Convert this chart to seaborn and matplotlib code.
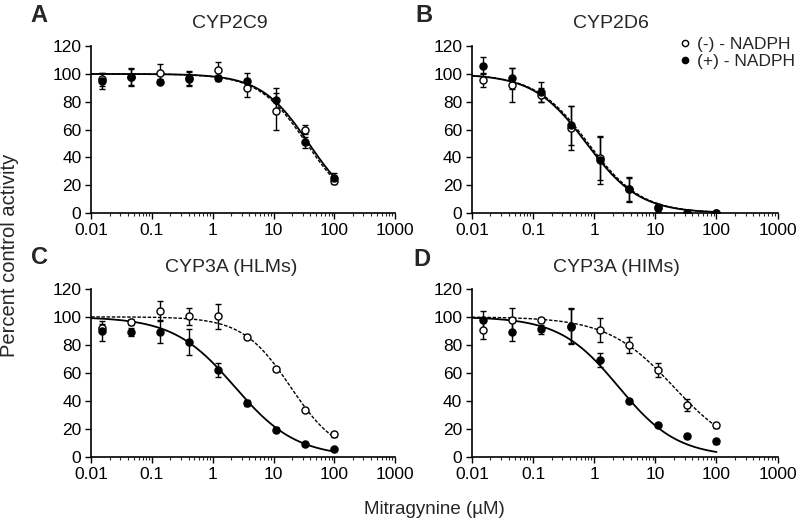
import numpy as np
import pandas as pd
import matplotlib
matplotlib.use("Agg")
import matplotlib.pyplot as plt
from matplotlib.ticker import FixedLocator, LogLocator, NullFormatter
from matplotlib.lines import Line2D
import seaborn as sns

sns.set_style("ticks")
plt.rcParams['font.family'] = ['Liberation Sans', 'DejaVu Sans']

# ---- data ----
conc = [0.0152, 0.0457, 0.137, 0.41, 1.23, 3.7, 11.1, 33.3, 100]
panels = ["A", "B", "C", "D"]
titles = ["CYP2C9", "CYP2D6", "CYP3A (HLMs)", "CYP3A (HIMs)"]

minus_A = [96, 98, 101, 97, 102.5, 90, 73, 60, 23]
minus_A_err = [5, 6, 6.5, 5, 6, 6.5, 13, 3, 2]
plus_A = [95, 97.5, 94.5, 96.5, 97, 95, 81, 51, 25.5]
plus_A_err = [6, 6.3, 2, 5, 2, 6, 9, 4, 3]

minus_B = [95.5, 92, 85, 61, 39.5, 17, 4, 0, 0]
minus_B_err = [5, 12, 5, 16, 16, 8, 2, 0.5, 0.5]
plus_B = [106, 97, 87, 63, 38, 17, 3.5, 0, 0]
plus_B_err = [6, 7.5, 7, 14, 17, 9, 2.5, 0.5, 0.5]

minus_C = [92, 96.5, 104, 100.5, 100.5, 85.5, 63, 33.5, 16]
minus_C_err = [3, 2, 7, 6, 9, 1.5, 1.5, 1.5, 1.5]
plus_C = [90, 89, 89.5, 82, 62, 38.5, 19.5, 9, 5.5]
plus_C_err = [7, 3, 8, 9.5, 5, 2, 1.5, 1, 1]

minus_D = [90.5, 97.5, 98, 93, 90.5, 80, 62, 37, 22.5]
minus_D_err = [6, 9, 1.5, 12.5, 8.5, 5.5, 5, 4.5, 2]
plus_D = [98, 89.5, 91, 93.5, 69, 40, 22.5, 15, 11]
plus_D_err = [6.5, 6.5, 3, 12.5, 5, 1.5, 1.5, 1.5, 1.5]

# fitted curve parameters (IC50 in uM, Hill slope)
ic50_minus = [35, 0.8, 19, 20]
hill_minus = [1.1, 1.0, 1.1, 0.8]
ic50_plus = [38, 0.75, 2.3, 2.5]
hill_plus = [1.1, 1.0, 0.86, 0.9]

xticks = [0.01, 0.1, 1, 10, 100, 1000]
xticklabels = ["0.01", "0.1", "1", "10", "100", "1000"]
yticks = [0, 20, 40, 60, 80, 100, 120]

minus_vals = [minus_A, minus_B, minus_C, minus_D]
minus_errs = [minus_A_err, minus_B_err, minus_C_err, minus_D_err]
plus_vals = [plus_A, plus_B, plus_C, plus_D]
plus_errs = [plus_A_err, plus_B_err, plus_C_err, plus_D_err]

W, H = 800, 530
fig = plt.figure(figsize=(8, 5.3), dpi=100)
positions = [
    [0.114, 0.598, 0.380, 0.315],
    [0.590, 0.598, 0.382, 0.315],
    [0.114, 0.138, 0.380, 0.317],
    [0.590, 0.138, 0.382, 0.317],
]
# pixel positions (from top-left)
letter_px = [(39, 15), (424, 15), (39, 258), (422, 260)]
title_px = [(230, 23), (611, 23), (231, 268), (616, 267)]

xfit = np.logspace(np.log10(0.01), np.log10(100), 300)

for i in range(4):
    ax = fig.add_axes(positions[i])
    ax.set_xscale("log")
    # fitted curves
    ym = 100.0 / (1.0 + (xfit / ic50_minus[i]) ** hill_minus[i])
    yp = 100.0 / (1.0 + (xfit / ic50_plus[i]) ** hill_plus[i])
    sns.lineplot(x=xfit, y=ym, ax=ax, color="black", lw=1.0, linestyle=(0, (2.5, 1.2)))
    sns.lineplot(x=xfit, y=yp, ax=ax, color="black", lw=1.3)
    # error bars
    ax.errorbar(conc, minus_vals[i], yerr=minus_errs[i], fmt="none", ecolor="black",
                elinewidth=1.0, capsize=2.5, capthick=1.0, zorder=3)
    ax.errorbar(conc, plus_vals[i], yerr=plus_errs[i], fmt="none", ecolor="black",
                elinewidth=1.0, capsize=2.5, capthick=1.0, zorder=3)
    # points
    ax.scatter(conc, minus_vals[i], s=26, facecolor="white", edgecolor="black",
               linewidth=1.0, zorder=4)
    ax.scatter(conc, plus_vals[i], s=26, facecolor="black", edgecolor="black",
               linewidth=1.0, zorder=5)

    ax.set_xlim(0.01, 1000)
    ax.set_ylim(0, 120)
    ax.xaxis.set_major_locator(FixedLocator(xticks))
    ax.set_xticklabels(xticklabels)
    ax.xaxis.set_minor_locator(LogLocator(base=10, subs=np.arange(2, 10)))
    ax.xaxis.set_minor_formatter(NullFormatter())
    ax.set_yticks(yticks)
    ax.tick_params(axis="both", which="major", direction="out", length=4, width=1.0,
                   labelsize=12.5, colors="black", pad=3)
    ax.tick_params(axis="x", which="minor", direction="out", length=2.5, width=0.8)
    sns.despine(ax=ax)
    for sp in ["left", "bottom"]:
        ax.spines[sp].set_linewidth(1.2)
        ax.spines[sp].set_color("black")
    ax.set_xlabel("")
    ax.set_ylabel("")
    ax.margins(0)

    fig.text(letter_px[i][0] / W, 1 - letter_px[i][1] / H, panels[i], fontsize=17,
             fontweight="bold", ha="center", va="center")
    fig.text(title_px[i][0] / W, 1 - title_px[i][1] / H, titles[i], fontsize=14,
             ha="center", va="center")

    if i == 1:
        handles = [
            Line2D([], [], marker="o", linestyle="none", markerfacecolor="white",
                   markeredgecolor="black", markersize=4.5, markeredgewidth=1.0),
            Line2D([], [], marker="o", linestyle="none", markerfacecolor="black",
                   markeredgecolor="black", markersize=4.5, markeredgewidth=1.0),
        ]
        fig.legend(handles, ["(-) - NADPH", "(+) - NADPH"], loc="upper left",
                   bbox_to_anchor=(681 / W, 1 - 37 / H), frameon=False, fontsize=12.5,
                   handlelength=0.5, handletextpad=0.45, labelspacing=0.12,
                   borderpad=0, borderaxespad=0)

fig.text(10 / W, 1 - 255 / H, "Percent control activity", rotation=90, fontsize=14.5,
         ha="center", va="center")
fig.text(434 / W, 1 - 509 / H, "Mitragynine (µM)", fontsize=13.5, ha="center",
         va="center")

fig.savefig("out.png", dpi=100)
